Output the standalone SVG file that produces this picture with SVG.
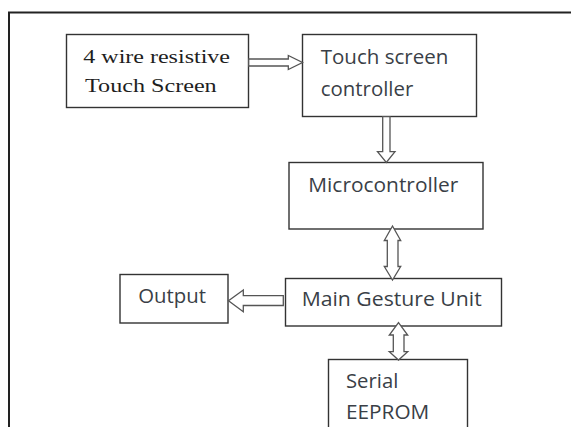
<svg xmlns="http://www.w3.org/2000/svg" width="571" height="427" viewBox="0 0 571 427">
<style>
.box{fill:#fff;stroke:#333;stroke-width:1.4}
.arr{fill:#fff;stroke:#555;stroke-width:1.3;stroke-linejoin:miter}
.serif{font-family:"Liberation Serif","Times New Roman",serif;font-size:19.5px;fill:#1e1e1e}
.sans{font-family:"Open Sans","Liberation Sans",Arial,sans-serif;font-size:20px;fill:#3a3f47}
</style>
<rect width="571" height="427" fill="#fff"/>
<path d="M9,427 V12.5 H571" fill="none" stroke="#222" stroke-width="2"/>
<g id="touch-screen">
<rect class="box" x="66.5" y="34.5" width="182" height="73"/>
<text class="serif" x="83.3" y="63.3" textLength="146.7" lengthAdjust="spacingAndGlyphs">4 wire resistive</text>
<text class="serif" x="85" y="92.3" textLength="131.7" lengthAdjust="spacingAndGlyphs">Touch Screen</text>
</g>
<g id="ts-controller">
<rect class="box" x="302.5" y="34.5" width="174" height="82"/>
<text class="sans" x="320.7" y="64" textLength="127.6" lengthAdjust="spacingAndGlyphs">Touch screen</text>
<text class="sans" x="320.7" y="95.7" textLength="92.6" lengthAdjust="spacingAndGlyphs">controller</text>
</g>
<g id="microcontroller">
<rect class="box" x="289" y="162.5" width="194" height="66.5"/>
<text class="sans" x="308.3" y="192.3" textLength="150" lengthAdjust="spacingAndGlyphs">Microcontroller</text>
</g>
<g id="output">
<rect class="box" x="120" y="274.5" width="108" height="48.5"/>
<text class="sans" x="138.3" y="303.3" textLength="67.7" lengthAdjust="spacingAndGlyphs">Output</text>
</g>
<g id="main-gesture-unit">
<rect class="box" x="285.5" y="278.5" width="216" height="47.5"/>
<text class="sans" x="301.7" y="305.5" textLength="180" lengthAdjust="spacingAndGlyphs">Main Gesture Unit</text>
</g>
<g id="serial-eeprom">
<rect class="box" x="328.5" y="359.5" width="139" height="80"/>
<text class="sans" x="346" y="388.3" textLength="52.3" lengthAdjust="spacingAndGlyphs">Serial</text>
<text class="sans" x="346" y="419" textLength="83.3" lengthAdjust="spacingAndGlyphs">EEPROM</text>
</g>
<g id="connectors">
<polygon class="arr" points="248.7,59 288.3,59 288.3,55.5 302.5,62.5 288.3,69.5 288.3,66 248.7,66"/>
<polygon class="arr" points="382.7,116.7 390,116.7 390,151.7 395,151.7 386.3,162.5 377.5,151.7 382.7,151.7"/>
<polygon class="arr" points="392.5,226 400.7,240.5 398,240.5 398,266.5 400.7,266.5 392.5,280 384.3,266.5 387.3,266.5 387.3,240.5 384.3,240.5"/>
<polygon class="arr" points="398.5,322.7 407.7,335 404,335 404,351.7 407.7,351.7 398.5,360 389.3,351.7 393.3,351.7 393.3,335 389.3,335"/>
<polygon class="arr" points="228.5,300.8 243.3,290 243.3,295.7 283.3,295.7 283.3,305.5 243.3,305.5 243.3,311.7"/>
</g>
</svg>
